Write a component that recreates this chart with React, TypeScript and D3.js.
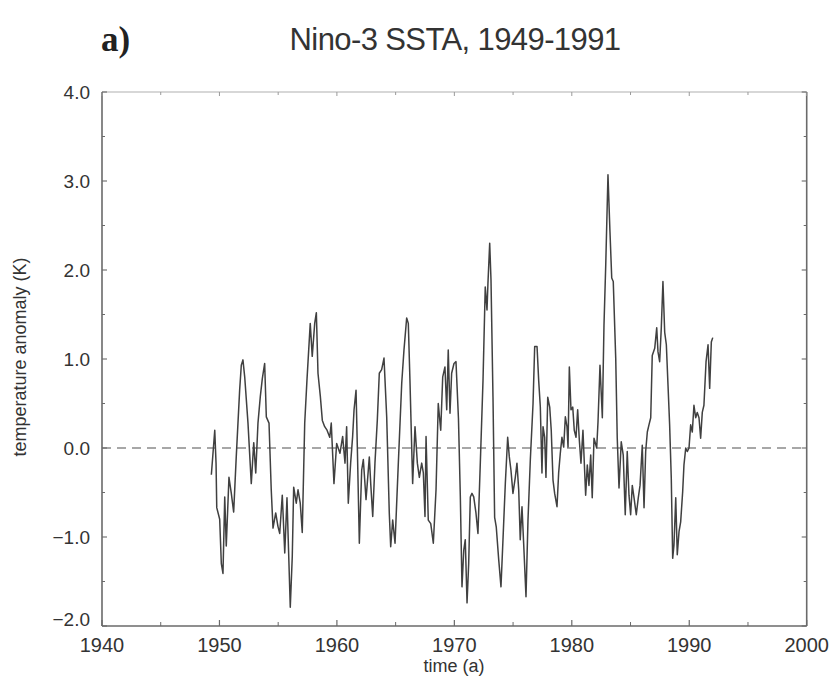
import React from "react";
import * as d3 from "d3";

const years: number[] = [
  1949.31, 1949.6, 1949.71, 1949.77, 1950.02, 1950.16, 1950.3, 1950.45, 1950.58, 1950.81,
  1951.01, 1951.21, 1951.43, 1951.72, 1951.86, 1952.0, 1952.15, 1952.43, 1952.71, 1952.92,
  1953.09, 1953.28, 1953.48, 1953.65, 1953.85, 1953.99, 1954.22, 1954.41, 1954.56, 1954.79,
  1954.98, 1955.13, 1955.35, 1955.56, 1955.75, 1956.03, 1956.2, 1956.32, 1956.54, 1956.69,
  1956.88, 1957.05, 1957.26, 1957.45, 1957.73, 1957.9, 1958.11, 1958.25, 1958.39, 1958.59,
  1958.76, 1958.96, 1959.16, 1959.39, 1959.52, 1959.75, 1959.98, 1960.26, 1960.49, 1960.69,
  1960.83, 1960.97, 1961.17, 1961.34, 1961.46, 1961.63, 1961.74, 1961.91, 1962.11, 1962.25,
  1962.48, 1962.76, 1962.88, 1963.05, 1963.24, 1963.44, 1963.61, 1963.81, 1964.01, 1964.24,
  1964.46, 1964.58, 1964.75, 1964.95, 1965.23, 1965.52, 1965.71, 1965.94, 1966.08, 1966.22,
  1966.45, 1966.65, 1966.85, 1967.02, 1967.22, 1967.36, 1967.5, 1967.59, 1967.78, 1967.99,
  1968.21, 1968.44, 1968.63, 1968.84, 1969.01, 1969.2, 1969.35, 1969.48, 1969.63, 1969.77,
  1969.97, 1970.14, 1970.35, 1970.51, 1970.65, 1970.8, 1970.93, 1971.08, 1971.22, 1971.36,
  1971.5, 1971.65, 1971.84, 1972.01, 1972.21, 1972.44, 1972.63, 1972.78, 1972.86, 1973.01,
  1973.12, 1973.29, 1973.43, 1973.57, 1973.78, 1973.97, 1974.14, 1974.34, 1974.54, 1974.68,
  1974.82, 1974.99, 1975.19, 1975.33, 1975.48, 1975.61, 1975.76, 1975.9, 1976.1, 1976.27,
  1976.47, 1976.7, 1976.84, 1977.04, 1977.18, 1977.32, 1977.46, 1977.55, 1977.69, 1977.8,
  1977.95, 1978.12, 1978.25, 1978.4, 1978.54, 1978.74, 1978.88, 1979.02, 1979.16, 1979.31,
  1979.45, 1979.59, 1979.68, 1979.79, 1979.93, 1980.08, 1980.21, 1980.36, 1980.5, 1980.64,
  1980.78, 1980.95, 1981.18, 1981.32, 1981.46, 1981.61, 1981.74, 1981.89, 1982.12, 1982.23,
  1982.4, 1982.6, 1982.74, 1982.89, 1983.08, 1983.25, 1983.4, 1983.53, 1983.74, 1983.87,
  1984.02, 1984.21, 1984.38, 1984.55, 1984.72, 1984.87, 1985.01, 1985.15, 1985.3, 1985.49,
  1985.66, 1985.81, 1986.0, 1986.15, 1986.29, 1986.43, 1986.57, 1986.72, 1986.85, 1987.06,
  1987.23, 1987.34, 1987.48, 1987.62, 1987.76, 1987.91, 1988.05, 1988.19, 1988.33, 1988.47,
  1988.59, 1988.7, 1988.85, 1988.98, 1989.13, 1989.27, 1989.44, 1989.55, 1989.7, 1989.83,
  1989.98, 1990.12, 1990.26, 1990.4, 1990.55, 1990.68, 1990.83, 1990.97, 1991.11, 1991.25,
  1991.43, 1991.6, 1991.74, 1991.88, 1992.0,
];

const anomalies: number[] = [
  -0.3, 0.2, -0.17, -0.67, -0.8, -1.3, -1.41, -0.55, -1.1, -0.33,
  -0.51, -0.72, -0.1, 0.65, 0.93, 0.99, 0.8, 0.28, -0.4, 0.06,
  -0.28, 0.28, 0.58, 0.78, 0.95, 0.35, 0.28, -0.47, -0.9, -0.73,
  -0.88, -0.96, -0.53, -1.18, -0.56, -1.79, -1.22, -0.44, -0.62, -0.47,
  -0.62, -0.95, 0.28, 0.76, 1.4, 1.03, 1.4, 1.52, 0.84, 0.58,
  0.31, 0.24, 0.2, 0.12, 0.28, -0.4, 0.05, -0.06, 0.13, -0.17,
  0.24, -0.62, -0.17, 0.13, 0.43, 0.65, 0.01, -1.07, -0.25, -0.13,
  -0.58, -0.1, -0.4, -0.77, -0.17, 0.31, 0.84, 0.88, 1.01, 0.35,
  -0.73, -1.11, -0.81, -1.07, -0.17, 0.73, 1.1, 1.46, 1.4, 0.76,
  -0.4, 0.24, -0.17, -0.33, -0.17, -0.28, -0.77, 0.13, -0.81, -0.85,
  -1.07, -0.47, 0.5, 0.2, 0.8, 0.91, 0.43, 1.1, 0.39, 0.84,
  0.95, 0.97, 0.33, -0.55, -1.56, -1.15, -1.03, -1.74, -1.3, -0.55,
  -0.51, -0.55, -0.73, -0.96, -0.17, 0.76, 1.81, 1.55, 1.85, 2.3,
  1.89, 0.57, -0.78, -0.89, -1.26, -1.56, -1.03, -0.4, 0.12, -0.1,
  -0.25, -0.51, -0.33, -0.17, -0.47, -1.03, -0.66, -1.07, -1.67, -0.81,
  -0.13, 0.5, 1.14, 1.14, 0.76, 0.46, -0.28, 0.24, 0.12, -0.33,
  0.57, 0.46, 0.2, -0.36, -0.51, -0.66, -0.28, -0.06, 0.12, 0.01,
  0.35, 0.24, 0.01, 0.91, 0.43, 0.46, 0.2, 0.12, 0.43, 0.09,
  -0.17, 0.2, -0.53, -0.19, -0.42, -0.08, -0.56, 0.11, 0.0, 0.29,
  0.93, 0.34, 1.38, 2.06, 3.07, 2.43, 1.91, 1.87, 1.01, 0.11,
  -0.45, 0.07, -0.08, -0.75, -0.04, -0.53, -0.75, -0.42, -0.56, -0.75,
  -0.56, -0.42, 0.03, -0.67, -0.04, 0.18, 0.26, 0.34, 1.04, 1.12,
  1.35, 1.08, 0.97, 1.35, 1.87, 1.3, 1.16, 0.71, 0.26, -0.34,
  -1.24, -1.09, -0.56, -1.2, -0.94, -0.83, -0.49, -0.19, 0.0, -0.04,
  0.0, 0.26, 0.18, 0.48, 0.34, 0.4, 0.34, 0.11, 0.4, 0.48,
  0.97, 1.16, 0.67, 1.19, 1.24,
];

const xTickValues: number[] = [1940, 1950, 1960, 1970, 1980, 1990, 2000];
const xMinorTicks: number[] = [1945, 1955, 1965, 1975, 1985, 1995];
const yTickValues: number[] = [-2, -1, 0, 1, 2, 3, 4];
const yMinorTicks: number[] = [-1.5, -0.5, 0.5, 1.5, 2.5, 3.5];

const title = "Nino-3 SSTA, 1949-1991";
const panelLabel = "a)";
const xLabel = "time (a)";
const yLabel = "temperature anomaly (K)";

export default function App() {
  const W = 834;
  const H = 688;
  const left = 102;
  const right = 806.7;
  const top = 92;
  const bottom = 626;

  const x = d3.scaleLinear().domain([1940, 2000]).range([left, right]);
  const y = d3.scaleLinear().domain([-2, 4]).range([bottom, top]);

  const data = years.map((yr, i) => [yr, anomalies[i]] as [number, number]);
  const line = d3
    .line<[number, number]>()
    .x((d) => x(d[0]))
    .y((d) => y(d[1]));

  const font = "'Liberation Sans', Arial, Helvetica, sans-serif";
  const axisColor = "#6a6a6a";
  const textColor = "#333";

  return (
    <svg
      width={W}
      height={H}
      style={{ position: "absolute", left: 0, top: 0, background: "#fff" }}
    >
      <rect x={0} y={0} width={W} height={H} fill="#fff" />
      {/* title */}
      <text
        x={101}
        y={51}
        fontFamily="'Liberation Serif', 'Times New Roman', serif"
        fontWeight="bold"
        fontSize={35}
        fill="#222"
      >
        {panelLabel}
      </text>
      <text
        x={455}
        y={50}
        textAnchor="middle"
        fontFamily={font}
        fontSize={31}
        fill={textColor}
        style={{ letterSpacing: "-0.6px" }}
      >
        {title}
      </text>

      {/* zero dashed line */}
      <line
        x1={left}
        x2={right}
        y1={y(0)}
        y2={y(0)}
        stroke="#8a8a8a"
        strokeWidth={1.3}
        strokeDasharray="9,6"
      />

      {/* data */}
      <path
        d={line(data) || ""}
        fill="none"
        stroke="#404040"
        strokeWidth={1.5}
        strokeLinejoin="round"
      />

      {/* frame */}
      <line x1={left} x2={right} y1={top} y2={top} stroke="#b0b0b0" strokeWidth={1.2} />
      <line x1={left} x2={right} y1={bottom} y2={bottom} stroke={axisColor} strokeWidth={1.5} />
      <line x1={left} x2={left} y1={top} y2={bottom} stroke={axisColor} strokeWidth={1.6} />
      <line x1={right} x2={right} y1={top} y2={bottom} stroke={axisColor} strokeWidth={1.6} />

      {/* x ticks */}
      {xTickValues.map((v) => (
        <g key={"xt" + v}>
          <line x1={x(v)} x2={x(v)} y1={bottom} y2={bottom - 6} stroke={axisColor} strokeWidth={1.2} />
          <line x1={x(v)} x2={x(v)} y1={top} y2={top + 4} stroke="#9a9a9a" strokeWidth={1} />
          <text
            x={x(v)}
            y={652}
            textAnchor="middle"
            fontFamily={font}
            fontSize={20}
            fill={textColor}
          >
            {v}
          </text>
        </g>
      ))}
      {xMinorTicks.map((v) => (
        <g key={"xm" + v}>
          <line x1={x(v)} x2={x(v)} y1={bottom} y2={bottom - 4} stroke={axisColor} strokeWidth={1} />
          <line x1={x(v)} x2={x(v)} y1={top} y2={top + 3} stroke="#9a9a9a" strokeWidth={1} />
        </g>
      ))}

      {/* y ticks */}
      {yTickValues.map((v) => (
        <g key={"yt" + v}>
          <line x1={left} x2={left + 5} y1={y(v)} y2={y(v)} stroke={axisColor} strokeWidth={1.1} />
          <line x1={right} x2={right - 5} y1={y(v)} y2={y(v)} stroke={axisColor} strokeWidth={1.1} />
          <text
            x={90}
            y={v === -2 ? y(v) : y(v) + 7}
            textAnchor="end"
            fontFamily={font}
            fontSize={19}
            fill={textColor}
          >
            {d3.format(".1f")(v)}
          </text>
        </g>
      ))}
      {yMinorTicks.map((v) => (
        <g key={"ym" + v}>
          <line x1={left} x2={left + 3} y1={y(v)} y2={y(v)} stroke={axisColor} strokeWidth={1} />
          <line x1={right} x2={right - 3} y1={y(v)} y2={y(v)} stroke={axisColor} strokeWidth={1} />
        </g>
      ))}

      {/* axis labels */}
      <text
        x={454}
        y={672}
        textAnchor="middle"
        fontFamily={font}
        fontSize={18}
        fill={textColor}
      >
        {xLabel}
      </text>
      <text
        transform={`translate(26, ${357}) rotate(-90)`}
        textAnchor="middle"
        fontFamily={font}
        fontSize={18}
        fill={textColor}
      >
        {yLabel}
      </text>
    </svg>
  );
}
